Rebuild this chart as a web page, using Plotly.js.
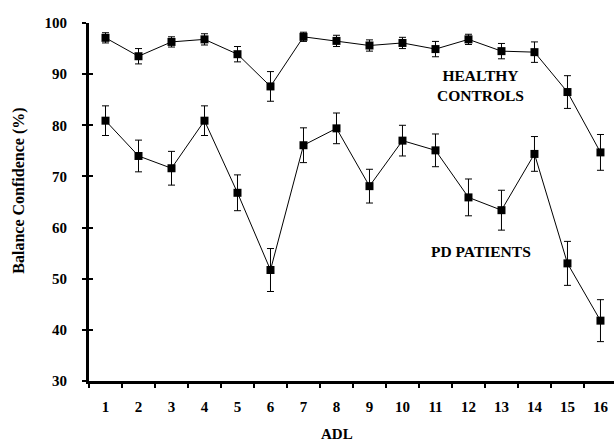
<!DOCTYPE html>
<html>
<head>
<meta charset="utf-8">
<script src="https://cdn.plot.ly/plotly-3.0.1.min.js"></script>
<style>html,body{margin:0;padding:0;background:#fff;}#chart{width:614px;height:442px;}</style>
</head>
<body>
<div id="chart"></div>
<script>
var adl = [1,2,3,4,5,6,7,8,9,10,11,12,13,14,15,16];
var tickLabels = ["1","2","3","4","5","6","7","8","9","10","11","12","13","14","15","16"];
var healthy = [97.1,93.5,96.3,96.8,93.9,87.6,97.3,96.5,95.6,96.1,94.9,96.8,94.5,94.3,86.5,74.7];
var healthyErr = [1.0,1.5,1.0,1.1,1.5,2.9,0.9,1.1,1.1,1.1,1.5,1.0,1.5,2.0,3.2,3.5];
var pd = [80.9,74.0,71.6,80.9,66.8,51.7,76.1,79.4,68.1,77.0,75.1,65.9,63.4,74.4,53.0,41.8];
var pdErr = [2.9,3.1,3.3,2.9,3.5,4.2,3.4,3.0,3.3,3.0,3.2,3.6,3.9,3.4,4.3,4.1];

var FONT = "Liberation Serif, Times New Roman, serif";

function series(y, err) {
  return {
    x: adl, y: y, type: 'scatter', mode: 'lines+markers',
    line: {color: '#000', width: 1},
    marker: {symbol: 'square', size: 8, color: '#000'},
    error_y: {type: 'data', array: err, visible: true, color: '#000', thickness: 1, width: 3.5},
    showlegend: false, hoverinfo: 'skip'
  };
}

var data = [series(healthy, healthyErr), series(pd, pdErr)];

var layout = {
  width: 614, height: 442,
  margin: {l: 89, r: 0, t: 23, b: 61},
  paper_bgcolor: '#fff', plot_bgcolor: '#fff',
  font: {family: FONT, color: '#000', size: 15},
  xaxis: {
    range: [0.5, 16.41], showgrid: false, zeroline: false,
    showline: true, linecolor: '#000', linewidth: 3,
    tickvals: adl, ticktext: tickLabels, ticks: '',
    ticklabelstandoff: 10,
    tickfont: {family: FONT, size: 15, color: '#000', weight: 'bold'},
    minor: {tick0: 0.5, dtick: 1, ticks: 'outside', ticklen: 4, tickwidth: 2, tickcolor: '#000', showgrid: false}
  },
  yaxis: {
    range: [30, 100], showgrid: false, zeroline: false,
    showline: true, linecolor: '#000', linewidth: 3,
    tickvals: [30,40,50,60,70,80,90,100], ticks: 'outside', ticklen: 4, tickwidth: 2, tickcolor: '#000',
    ticklabelstandoff: 12,
    tickfont: {family: FONT, size: 15, color: '#000', weight: 'bold'}
  },
  yaxis2: {
    overlaying: 'y', matches: 'y', range: [30, 100], side: 'left',
    showgrid: false, zeroline: false, showline: false, showticklabels: false,
    tickvals: [30,40,50,60,70,80,90,100], ticks: 'inside', ticklen: 4, tickwidth: 2, tickcolor: '#000'
  },
  annotations: [
    {xref: 'paper', yref: 'paper', x: -0.135, y: 0.532, text: 'Balance Confidence (%)', textangle: -90,
     showarrow: false, font: {family: FONT, size: 16, color: '#000', weight: 'bold'}, xanchor: 'center', yanchor: 'middle'},
    {xref: 'paper', yref: 'paper', x: 0.472, y: -0.147, text: 'ADL',
     showarrow: false, font: {family: FONT, size: 15, color: '#000', weight: 'bold'}, xanchor: 'center', yanchor: 'middle'},
    {xref: 'x', yref: 'y', x: 12.35, y: 87.8, text: 'HEALTHY<br>CONTROLS', align: 'center',
     showarrow: false, font: {family: FONT, size: 15.5, color: '#000', weight: 'bold'}, xanchor: 'center', yanchor: 'middle'},
    {xref: 'x', yref: 'y', x: 12.38, y: 55.4, text: 'PD PATIENTS',
     showarrow: false, font: {family: FONT, size: 15.5, color: '#000', weight: 'bold'}, xanchor: 'center', yanchor: 'middle'}
  ]
};

data.push({x: [], y: [], yaxis: 'y2', type: 'scatter', showlegend: false, hoverinfo: 'skip'});

Plotly.newPlot('chart', data, layout, {displayModeBar: false, staticPlot: true});
</script>
</body>
</html>
